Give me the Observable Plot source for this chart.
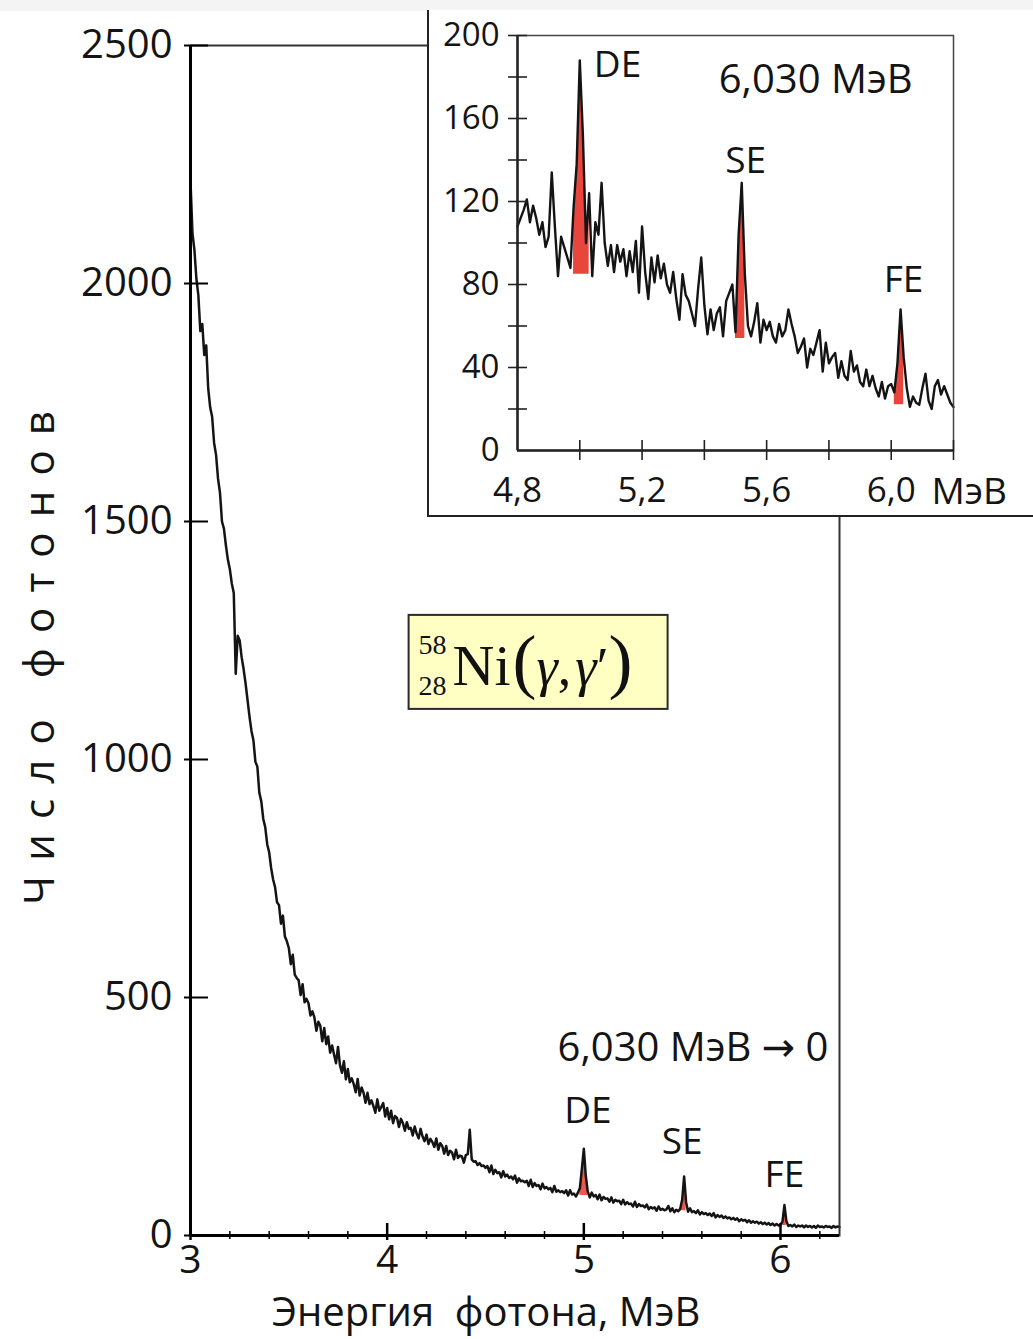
<!DOCTYPE html>
<html>
<head>
<meta charset="utf-8">
<script src="https://cdn.jsdelivr.net/npm/d3@7"></script>
<script src="https://cdn.jsdelivr.net/npm/@observablehq/plot@0.6"></script>
<style>
  body { margin: 0; background: #fff; }
  #chart { position: relative; width: 1033px; height: 1339px; overflow: hidden; background: #fff; }
  #strip { position: absolute; left: 0; top: 0; width: 1033px; height: 11px; background: #f4f4f4; }
  #inset { position: absolute; left: 427px; top: 10px; background: #fff;
           border-left: 2px solid #222; border-bottom: 2px solid #222; }
  #inset svg, #main svg { display: block; }
</style>
</head>
<body>
<div id="chart">
  <div id="main"></div>
  <div id="strip"></div>
  <div id="inset"></div>
</div>
<script>
// ---- Spectrum of 58Ni(γ,γ′): counts per 10 keV channel, 3.00–6.30 MeV ----
const mainStart = 3.00;
const mainStep = 0.01;
const mainCounts = [
  2215, 2105, 2070, 2010, 1975, 1900, 1915, 1850, 1870, 1780,
  1740, 1720, 1665, 1640, 1590, 1560, 1500, 1485, 1450, 1420,
  1400, 1370, 1350, 1180, 1260, 1250, 1215, 1190, 1160, 1125,
  1090, 1060, 1040, 995, 985, 930, 912, 875, 858, 822,
  805, 772, 748, 732, 700, 694, 655, 672, 628, 618,
  604, 570, 590, 548, 541, 536, 505, 528, 490, 497,
  488, 462, 471, 458, 430, 449, 441, 408, 436, 402,
  418, 384, 399, 380, 362, 396, 358, 342, 366, 328,
  350, 322, 330, 318, 301, 329, 294, 311, 300, 279,
  300, 276, 284, 272, 258, 286, 262, 270, 278, 250,
  268, 244, 262, 236, 251, 247, 228, 245, 236, 220,
  238, 224, 226, 210, 229, 214, 204, 224, 208, 198,
  212, 192, 203, 196, 186, 204, 180, 194, 188, 172,
  188, 169, 178, 174, 160, 180, 163, 168, 166, 153,
  169, 171, 222, 160, 155, 156, 148, 152, 146, 147,
  142, 146, 133, 147, 129, 138, 131, 133, 122, 135,
  124, 128, 121, 124, 118, 126, 111, 120, 114, 115,
  112, 115, 104, 117, 102, 110, 104, 106, 97, 109,
  99, 102, 97, 100, 91, 104, 92, 95, 91, 93,
  89, 95, 84, 95, 86, 88, 82, 90, 100, 140,
  182, 125, 92, 80, 90, 82, 85, 76, 86, 74,
  81, 77, 78, 71, 80, 69, 75, 72, 73, 66,
  75, 65, 70, 66, 67, 61, 71, 60, 66, 62,
  63, 59, 65, 55, 60, 57, 59, 52, 61, 54,
  56, 53, 55, 62, 51, 57, 49, 54, 51, 56,
  75, 124, 70, 50, 57, 49, 51, 47, 53, 44,
  49, 45, 47, 43, 46, 41, 47, 38, 43, 39,
  42, 37, 40, 36, 38, 34, 37, 33, 36, 30,
  34, 31, 33, 28, 32, 27, 30, 27, 29, 25,
  28, 24, 27, 23, 26, 22, 25, 21, 24, 21,
  23, 29, 64, 30, 20, 22, 19, 23, 18, 21,
  19, 21, 17, 21, 18, 20, 17, 20, 16, 21,
  18, 19, 17, 20, 18, 19, 16, 20, 17, 19,
  18
];

// ---- Detail of the 6.030 MeV line region, 4.80–6.20 MeV ----
const insetStart = 4.80;
const insetStep = 0.01;
const insetCounts = [
  108, 112, 116, 121, 110, 118, 112, 104, 110, 98,
  103, 134, 108, 84, 103, 98, 93, 88, 117, 138,
  188, 152, 100, 124, 84, 110, 104, 129, 100, 89,
  99, 86, 99, 91, 97, 84, 96, 86, 101, 76,
  108, 86, 73, 93, 81, 94, 83, 90, 80, 76,
  86, 73, 63, 85, 75, 72, 66, 60, 78, 93,
  70, 56, 68, 58, 66, 69, 55, 72, 76, 80,
  57, 104, 129, 85, 60, 55, 62, 71, 52, 63,
  58, 62, 55, 52, 61, 55, 58, 68, 61, 55,
  47, 50, 54, 40, 49, 46, 52, 58, 38, 52,
  42, 45, 47, 35, 43, 36, 34, 48, 38, 41,
  33, 31, 39, 31, 36, 30, 26, 33, 25, 31,
  32, 28, 42, 68, 45, 30, 21, 26, 23, 22,
  30, 37, 24, 20, 31, 34, 27, 31, 27, 23,
  21
];

// escape peaks of the 6.030 MeV transition
const peakNames = ["DE", "SE", "FE"];
const mainPeakEnergy = [5.00, 5.51, 6.02];
const insetPeakEnergy = [5.00, 5.52, 6.03];
// net-peak windows (shaded) and their background level
const mainPeakFrom = [4.98, 5.49, 6.01];
const mainPeakTo = [5.02, 5.52, 6.03];
const mainPeakBackground = [84, 52, 21];
const insetPeakFrom = [4.98, 5.50, 6.01];
const insetPeakTo = [5.03, 5.53, 6.04];
const insetPeakBackground = [85, 54, 22];

// ticks
const mainYTicks = [0, 500, 1000, 1500, 2000, 2500];
const mainXTicks = [3, 4, 5, 6];
const mainXMinorTicks = [3.2, 3.4, 3.6, 3.8, 4.2, 4.4, 4.6, 4.8, 5.2, 5.4, 5.6, 5.8, 6.2];
const insetYLabels = [0, 40, 80, 120, 160, 200];
const insetYTicks = [20, 40, 60, 80, 100, 120, 140, 160, 180, 200];
const insetXLabels = [4.8, 5.2, 5.6, 6.0];
const insetXTicks = [5.0, 5.2, 5.4, 5.6, 5.8, 6.0, 6.2];

// texts
const xTitle = "Энергия\u00A0 фотона, МэВ";
const yTitle = "Число фотонов";
const mainLineLabel = "6,030 МэВ \u2192 0";
const insetLineLabel = "6,030 МэВ";
const unitLabel = "МэВ";

// ---- tables ----
const toTable = (start, step, counts) =>
  counts.map((c, i) => ({e: +(start + i * step).toFixed(2), c}));
const mainData = toTable(mainStart, mainStep, mainCounts);
const insetData = toTable(insetStart, insetStep, insetCounts);

const netPeaks = (data, from, to, bg) =>
  peakNames.flatMap((name, k) =>
    data.filter(d => d.e >= from[k] - 1e-9 && d.e <= to[k] + 1e-9)
        .map(d => ({...d, bg: bg[k], name})));
const mainNet = netPeaks(mainData, mainPeakFrom, mainPeakTo, mainPeakBackground);
const insetNet = netPeaks(insetData, insetPeakFrom, insetPeakTo, insetPeakBackground);

const apex = (data, energies) => energies.map((e, k) => {
  const d = data.find(p => Math.abs(p.e - e) < 1e-6);
  return {e, c: d.c, name: peakNames[k]};
});
const mainApex = apex(mainData, mainPeakEnergy);
const insetApex = apex(insetData, insetPeakEnergy);

const comma = d => d.toFixed(1).replace(".", ",");
const plain = d => String(d);
const font = "'Open Sans', 'DejaVu Sans', sans-serif";
const red = "#e8463c";
const ink = "#141414";

// ---- main panel ----
const W = 1033, H = 1339;
const mL = 190, mR = 194, mT = 45, mB = 104;
const fw = W - mL - mR, fh = H - mT - mB;

// label offsets (px) from each peak apex
const mainLabelOffset = {DE: [4, -38], SE: [-2, -34], FE: [0, -30]};
const insetLabelOffset = {DE: [14, 5, "start"], SE: [4, -22, "middle"], FE: [3, -29, "middle"]};

const main = Plot.plot({
  width: W, height: H,
  marginLeft: mL, marginRight: mR, marginTop: mT, marginBottom: mB,
  x: {domain: [3, 6.3]},
  y: {domain: [0, 2500]},
  style: {fontFamily: font, color: ink, background: "transparent", overflow: "visible"},
  marks: [
    Plot.areaY(mainNet, {x: "e", y1: "bg", y2: "c", z: "name", fill: red, fillOpacity: 0.9}),
    Plot.line(mainData, {x: "e", y: "c", stroke: ink, strokeWidth: 2.5}),
    Plot.frame({stroke: "#333", strokeWidth: 2}),
    Plot.ruleX([3], {stroke: "#000", strokeWidth: 3}),
    Plot.ruleY([0], {stroke: "#000", strokeWidth: 3}),
    Plot.tickY(mainYTicks, {y: d => d, insetLeft: -6, insetRight: fw - 18, stroke: "#000", strokeWidth: 2}),
    Plot.tickX(mainXTicks, {x: d => d, insetTop: fh - 12, insetBottom: -5, stroke: "#000", strokeWidth: 2.5}),
    Plot.tickX(mainXMinorTicks, {x: d => d, insetTop: fh - 4, insetBottom: -4, stroke: "#000", strokeWidth: 1.5}),
    Plot.axisY({ticks: mainYTicks, tickSize: 0, tickPadding: 18, fontSize: 40, tickFormat: plain, label: null}),
    Plot.axisX({ticks: mainXTicks, tickSize: 0, tickPadding: 10, fontSize: 39, tickFormat: plain, label: null}),
    ...mainApex.map(p => Plot.text([p], {
      x: "e", y: "c", text: "name", fontSize: 37, lineAnchor: "middle", textAnchor: "middle",
      dx: mainLabelOffset[p.name][0], dy: mainLabelOffset[p.name][1]
    })),
    Plot.text([mainLineLabel], {frameAnchor: "bottom-right", textAnchor: "end", lineAnchor: "middle",
      dx: -11, dy: -187, fontSize: 40}),
    Plot.text([xTitle], {frameAnchor: "bottom", textAnchor: "middle", lineAnchor: "middle",
      dx: -29, dy: 78, fontSize: 40}),
    Plot.text([yTitle], {frameAnchor: "left", textAnchor: "middle", lineAnchor: "middle",
      rotate: -90, dx: -150, dy: 10, fontSize: 42})
  ]
});

d3.select(main).selectAll("text")
  .filter(function () { return this.textContent === yTitle; })
  .attr("letter-spacing", "0.36em");

// reaction label 58/28 Ni(γ,γ′)
{
  const sx = main.scale("x"), sy = main.scale("y");
  const bw = 259, bh = 94;
  const g = d3.select(main).append("g")
    .attr("transform", `translate(${sx.apply(4.77) - bw / 2},${sy.apply(1204) - bh / 2})`)
    .attr("font-family", "'Liberation Serif', 'Times New Roman', serif")
    .attr("text-anchor", "start")
    .attr("fill", "#111");
  g.append("rect").attr("width", bw).attr("height", bh)
    .attr("fill", "#ffffc4").attr("stroke", "#2a2a2a").attr("stroke-width", 2);
  g.append("text").attr("x", 10).attr("y", 39).attr("font-size", 28).text("58");
  g.append("text").attr("x", 10).attr("y", 80).attr("font-size", 28).text("28");
  const t = g.append("text").attr("x", 44).attr("y", 70).attr("font-size", 58);
  t.append("tspan").text("Ni");
  t.append("tspan").attr("font-size", 72).attr("dx", 2).text("(");
  t.append("tspan").attr("font-style", "italic").attr("font-size", 54).text("\u03B3");
  t.append("tspan").attr("font-size", 54).text(",");
  t.append("tspan").attr("font-style", "italic").attr("font-size", 54).attr("dx", 4).text("\u03B3");
  t.append("tspan").attr("font-size", 54).text("\u2032");
  t.append("tspan").attr("font-size", 72).text(")");
}

document.getElementById("main").appendChild(main);

// ---- inset panel ----
const iW = 604, iH = 505;
const iL = 88, iR = 80, iT = 25, iB = 65;
const ifw = iW - iL - iR, ifh = iH - iT - iB;

const inset = Plot.plot({
  width: iW, height: iH,
  marginLeft: iL, marginRight: iR, marginTop: iT, marginBottom: iB,
  x: {domain: [4.8, 6.2]},
  y: {domain: [0, 200]},
  style: {fontFamily: font, color: ink, background: "#fff", overflow: "visible"},
  marks: [
    Plot.areaY(insetNet, {x: "e", y1: "bg", y2: "c", z: "name", fill: red}),
    Plot.line(insetData, {x: "e", y: "c", stroke: ink, strokeWidth: 2.4}),
    Plot.frame({stroke: "#444", strokeWidth: 1.5}),
    Plot.ruleX([4.8], {stroke: "#222", strokeWidth: 2.5}),
    Plot.ruleY([0], {stroke: "#222", strokeWidth: 2.5}),
    Plot.tickY(insetYTicks, {y: d => d, insetLeft: -9, insetRight: ifw - 10, stroke: "#222", strokeWidth: 1.6}),
    Plot.tickX(insetXTicks, {x: d => d, insetTop: ifh - 10, insetBottom: -10, stroke: "#222", strokeWidth: 1.6}),
    Plot.axisY({ticks: insetYLabels, tickSize: 0, tickPadding: 18, fontSize: 33, tickFormat: plain, label: null}),
    Plot.axisX({ticks: insetXLabels, tickSize: 0, tickPadding: 27, fontSize: 35, tickFormat: comma, label: null}),
    Plot.text([unitLabel], {frameAnchor: "bottom-right", textAnchor: "start", lineAnchor: "top",
      dx: -22, dy: 27, fontSize: 37}),
    ...insetApex.map(p => Plot.text([p], {
      x: "e", y: "c", text: "name", fontSize: 37, lineAnchor: "middle",
      textAnchor: insetLabelOffset[p.name][2],
      dx: insetLabelOffset[p.name][0], dy: insetLabelOffset[p.name][1]
    })),
    Plot.text([insetLineLabel], {frameAnchor: "top-right", textAnchor: "end", lineAnchor: "middle",
      dx: -41, dy: 45, fontSize: 40})
  ]
});
document.getElementById("inset").appendChild(inset);
</script>
</body>
</html>
